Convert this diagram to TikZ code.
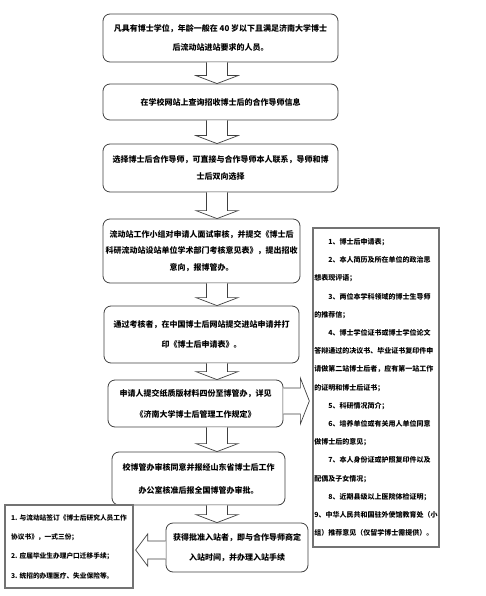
\documentclass[tikz,border=0pt]{standalone}
\usepackage{fontspec}
\setmainfont{Noto Sans CJK SC}
\usetikzlibrary{calc}
\tikzset{
  flowbox/.style={draw=black!75, line width=0.8pt, rounded corners=7pt, fill=white,
    align=center, inner sep=0pt},
  listbox/.style={draw=black!55, line width=1.3pt, fill=white, inner sep=0pt},
  blockarrow/.style={draw=black!75, line width=0.7pt, fill=white, line join=miter},
  boxtext/.style={align=center, font=\fontsize{8}{#1}\selectfont\bfseries},
  listtext/.style={align=left, font=\fontsize{#1}{18.2}\selectfont\bfseries},
}
\newcommand\vblockarrow[2]{%
  \draw[blockarrow] let \p1=(#1.south), \p2=(#2.north) in
    (206.5pt,\y1) -- (206.5pt,\y2+8pt) -- (196pt,\y2+8pt) -- (217pt,\y2)
    -- (238pt,\y2+8pt) -- (227.5pt,\y2+8pt) -- (227.5pt,\y1);}
\begin{document}
\begin{tikzpicture}[x=1pt,y=-1pt]
\useasboundingbox (0,0) rectangle (486,596);
% flow boxes
\node[flowbox, minimum width=235pt, minimum height=48pt] (b1) at (220.5,38) {};
\node[boxtext=18.5] (t1) at (b1.center) {凡具有博士学位，年龄一般在 40 岁以下且满足济南大学博士\\后流动站进站要求的人员。};
\node[flowbox, minimum width=235pt, minimum height=36pt] (b2) at (220.5,102) {};
\node[boxtext=18] (t2) at (b2.center) {在学校网站上查询招收博士后的合作导师信息};
\node[flowbox, minimum width=235pt, minimum height=48pt] (b3) at (220.5,168) {};
\node[boxtext=17.5] (t3) at (b3.center) {选择博士后合作导师，可直接与合作导师本人联系，导师和博\\士后双向选择};
\node[flowbox, minimum width=197pt, minimum height=64pt] (b4) at (201.5,251) {};
\node[boxtext=16.5] (t4) at (b4.center) {流动站工作小组对申请人面试审核，并提交《博士后\\科研流动站设站单位学术部门考核意见表》，提出招收\\意向，报博管办。};
\node[flowbox, minimum width=195pt, minimum height=57pt] (b5) at (201.5,334.5) {};
\node[boxtext=20] (t5) at (b5.center) {通过考核者，在中国博士后网站提交进站申请并打\\印《博士后申请表》。};
\node[flowbox, minimum width=175pt, minimum height=47pt] (b6) at (195.5,403.5) {};
\node[boxtext=21] (t6) at (b6.center) {申请人提交纸质版材料四份至博管办，详见\\《济南大学博士后管理工作规定》};
\node[flowbox, minimum width=173pt, minimum height=53pt] (b7) at (198.5,478.5) {};
\node[boxtext=23] (t7) at (b7.center) {校博管办审核同意并报经山东省博士后工作\\办公室核准后报全国博管办审批。};
\node[flowbox, minimum width=142pt, minimum height=49pt] (b8) at (237,547.5) {};
\node[boxtext=20] (t8) at (b8.center) {获得批准入站者，即与合作导师商定\\入站时间，并办理入站手续};
% list boxes
\node[listbox, minimum width=126pt, minimum height=319pt] (rb) at (376,387.5) {};
\node[listtext=7] (rt) at (rb.center) {%
\hspace*{14pt}1、博士后申请表；\\
\hspace*{14pt}2、本人简历及所在单位的政治思\\
想表现评语；\\
\hspace*{14pt}3、两位本学科领域的博士生导师\\
的推荐信；\\
\hspace*{14pt}4、博士学位证书或博士学位论文\\
答辩通过的决议书、毕业证书复印件申\\
请做第二站博士后者，应有第一站工作\\
的证明和博士后证书；\\
\hspace*{14pt}5、科研情况简介；\\
\hspace*{14pt}6、培养单位或有关用人单位同意\\
做博士后的意见；\\
\hspace*{14pt}7、本人身份证或护照复印件以及\\
配偶及子女情况；\\
\hspace*{14pt}8、近期县级以上医院体检证明；\\
9、中华人民共和国驻外使馆教育处（小\\
组）推荐意见（仅留学博士需提供）。};
\node[listbox, minimum width=128pt, minimum height=83pt] (lb) at (69,546.5) {};
\node[listtext=6.7, font=\fontsize{6.7}{19.3}\selectfont\bfseries] (lt) at (lb.center) {%
1. 与流动站签订《博士后研究人员工作\\
协议书》，一式三份；\\
2. 应届毕业生办理户口迁移手续；\\
3. 统招的办理医疗、失业保险等。};
% vertical block arrows
\vblockarrow{b1}{b2}
\vblockarrow{b2}{b3}
\vblockarrow{b3}{b4}
\vblockarrow{b4}{b5}
\vblockarrow{b5}{b6}
\vblockarrow{b6}{b7}
\vblockarrow{b7}{b8}
% right arrow from b6 to list box
\draw[blockarrow] let \p1=(b6.east), \p2=(rb.west) in
  (\x1,-388pt) -- (\x2-12pt,-388pt) -- (\x2-12pt,-378pt) -- (\x2-3pt,-401pt)
  -- (\x2-12pt,-424pt) -- (\x2-12pt,-414pt) -- (\x1,-414pt);
% left arrow from b8 to left list box
\draw[blockarrow] let \p1=(b8.west), \p2=(lb.east) in
  (\x1,-541pt) -- (\x2+14pt,-541pt) -- (\x2+14pt,-534pt) -- (\x2+2pt,-550pt)
  -- (\x2+14pt,-566pt) -- (\x2+14pt,-559pt) -- (\x1,-559pt);
\end{tikzpicture}
\end{document}
